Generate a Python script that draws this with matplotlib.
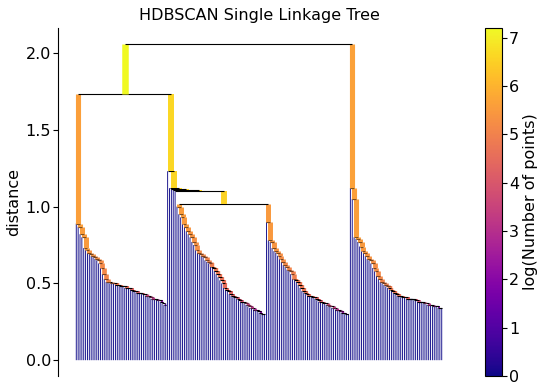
import matplotlib
matplotlib.use('Agg')
import matplotlib.pyplot as plt
import numpy as np

# merge heights
root_height = 2.06
left_height = 1.73
bcd_heights = [1.23, 1.12, 1.115, 1.11, 1.10]   # single points joining C+D
cd_height = 1.02

# each chain: one point drops off per merge, last value joins the last two points
chain_a = [0.89, 0.87, 0.82, 0.80, 0.73, 0.72, 0.70, 0.69, 0.68, 0.67, 0.66, 0.65,
           0.63, 0.60, 0.56, 0.53, 0.51, 0.51, 0.50, 0.50, 0.50, 0.49, 0.49, 0.48,
           0.48, 0.48, 0.47, 0.47, 0.47, 0.46, 0.45, 0.45, 0.44, 0.44, 0.44, 0.43,
           0.43, 0.42, 0.42, 0.41, 0.40, 0.40, 0.40, 0.39, 0.39, 0.38, 0.37, 0.36]
chain_c = [1.00, 0.95, 0.93, 0.89, 0.87, 0.84, 0.82, 0.80, 0.77, 0.75, 0.72, 0.70,
           0.69, 0.68, 0.67, 0.65, 0.64, 0.63, 0.61, 0.60, 0.58, 0.56, 0.54, 0.52,
           0.50, 0.47, 0.46, 0.45, 0.43, 0.42, 0.41, 0.41, 0.40, 0.39, 0.38, 0.38,
           0.37, 0.36, 0.35, 0.34, 0.34, 0.33, 0.33, 0.32, 0.31, 0.30, 0.30]
chain_d = [0.90, 0.78, 0.77, 0.73, 0.71, 0.70, 0.68, 0.66, 0.64, 0.62, 0.61, 0.59,
           0.58, 0.56, 0.53, 0.52, 0.51, 0.49, 0.47, 0.45, 0.44, 0.43, 0.42, 0.42,
           0.41, 0.41, 0.40, 0.39, 0.38, 0.38, 0.37, 0.37, 0.36, 0.35, 0.35, 0.34,
           0.34, 0.33, 0.33, 0.32, 0.31, 0.31, 0.30, 0.30]
chain_e = [1.12, 1.05, 0.80, 0.79, 0.77, 0.74, 0.71, 0.70, 0.68, 0.66, 0.65, 0.63,
           0.60, 0.58, 0.55, 0.53, 0.51, 0.50, 0.49, 0.48, 0.47, 0.46, 0.45, 0.44,
           0.43, 0.42, 0.42, 0.41, 0.41, 0.41, 0.40, 0.40, 0.40, 0.40, 0.39, 0.39,
           0.38, 0.38, 0.38, 0.37, 0.37, 0.36, 0.36, 0.36, 0.35, 0.35, 0.35, 0.34,
           0.34]

LEAF = None
LW_SCALE = 0.65


def chain(heights, tail=None):
    if tail is None:
        node = (heights[-1], LEAF, LEAF)
        heights = heights[:-1]
    else:
        node = tail
    for h in reversed(heights):
        node = (h, LEAF, node)
    return node


cd = (cd_height, chain(chain_c), chain(chain_d))
bcd = chain(bcd_heights, tail=cd)
left = (left_height, chain(chain_a), bcd)
root = (root_height, left, chain(chain_e))


def layout(node, segs, counter):
    if node is LEAF:
        x = 10 * counter[0] + 5
        counter[0] += 1
        return x, 0.0, 1
    h, l, r = node
    xl, hl, nl = layout(l, segs, counter)
    xr, hr, nr = layout(r, segs, counter)
    segs.append((xl, hl, xr, hr, h, nl, nr))
    return (xl + xr) / 2.0, h, nl + nr


segs = []
layout(root, segs, [0])

sizes = np.array([[s[5], s[6]] for s in segs]).flatten()
color_array = np.log2(sizes)
cmap = plt.get_cmap('plasma')
norm = plt.Normalize(0, color_array.max())
sm = plt.cm.ScalarMappable(cmap=cmap, norm=norm)
sm.set_array(color_array)

fig = plt.figure(figsize=(5.5, 3.9), dpi=100)
ax = fig.add_axes([58 / 550, 14 / 390, 402 / 550, 348 / 390])
cax = fig.add_axes([485 / 550, 14 / 390, 17 / 550, 348 / 390])


def leg(x, y0, y1, n):
    ax.plot([x, x], [y0, y1], color=sm.to_rgba(np.log2(n)),
            linewidth=np.log2(1 + n) * LW_SCALE,
            solid_joinstyle='miter', solid_capstyle='butt', snap=(n > 1))


for xl, hl, xr, hr, h, nl, nr in segs:
    leg(xl, hl, h, nl)
    leg(xr, hr, h, nr)
    ax.plot([xl, xr], [h, h], color='black', linewidth=0.8,
            solid_joinstyle='miter', solid_capstyle='butt')

cb = fig.colorbar(sm, cax=cax)
cb.ax.set_ylabel('log(Number of points)', fontsize=11.5, labelpad=3)
cb.ax.tick_params(labelsize=11.5, pad=1.5)

ax.set_xticks([])
for side in ('right', 'top', 'bottom'):
    ax.spines[side].set_visible(False)
ax.set_ylabel('distance', fontsize=11.5, labelpad=3)
ax.tick_params(axis='y', labelsize=11.5, pad=1.5)
ax.set_title('HDBSCAN Single Linkage Tree', fontsize=11.5)

fig.savefig('out.png', dpi=100)
